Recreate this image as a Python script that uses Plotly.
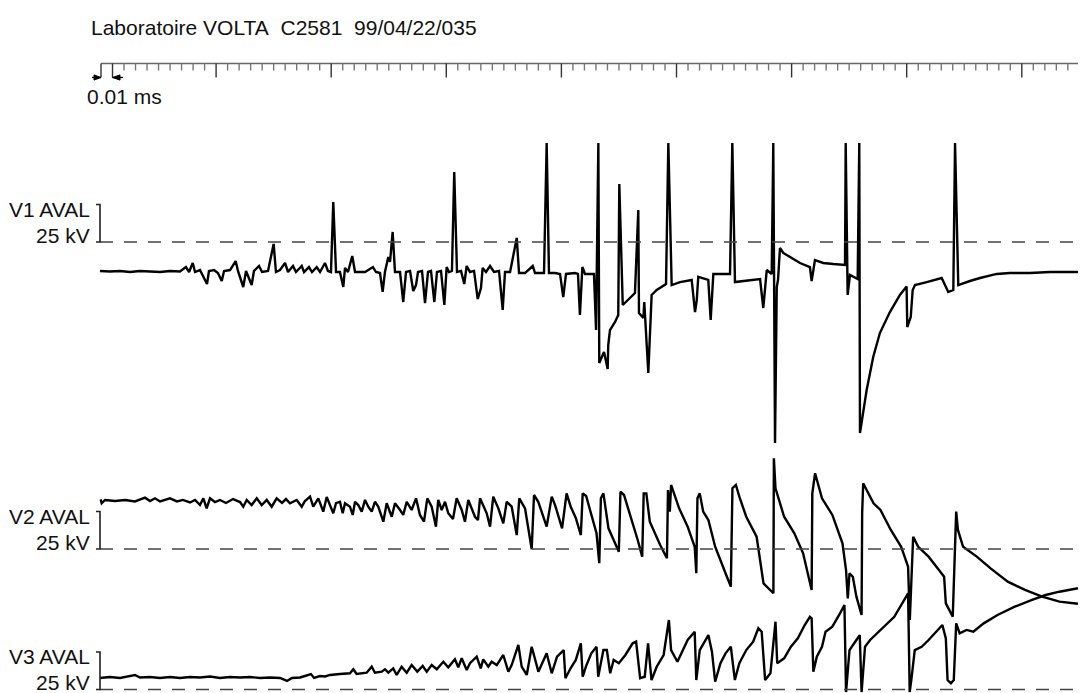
import plotly.graph_objects as go

# ---- data: (time in µs, voltage in kV relative to each channel's dashed reference) ----
TITLE = "Laboratoire VOLTA\u00a0\u00a0C2581\u00a0\u00a099/04/22/035"
SCALE_LABEL = "0.01 ms"
CHANNEL_NAMES = ["V1 AVAL", "V2 AVAL", "V3 AVAL"]
SCALE_KV = 25          # bracket height
RULER_STEP_US = 10     # one ruler division = 0.01 ms
RULER_DIVS = 84

V1 = [(-0.9,-19.3),(7.8,-19.7),(16.5,-19.3),(25.2,-20.0),(33.9,-19.3),(42.6,-19.7),(51.3,-20.0),(59.9,-19.3),(68.6,-19.7),
(73.8,-16.7),(76.5,-20.0),(79.7,-14.0),(81.7,-20.0),(86.0,-18.7),(92.1,-28.0),(93.8,-19.3),(98.2,-18.7),(101.6,-20.7),(104.9,-26.0),(106.9,-19.3),(112.1,-18.7),(117.0,-12.7),(119.0,-19.3),(123.6,-30.0),(126.0,-19.3),(130.9,-28.7),(132.9,-19.3),(137.3,-16.0),(139.9,-20.0),(145.1,-19.3),(150.0,-1.3),(152.0,-20.0),(155.5,-18.7),(159.9,-14.0),(162.5,-20.0),(166.8,-16.0),(169.4,-20.0),(174.4,-16.0),(176.4,-20.0),(180.7,-16.7),(183.3,-20.0),(187.4,-16.7),(190.3,-20.0),(194.6,-14.0),(197.2,-19.3),(199.8,-20.0),(201.8,26.7),(204.2,-20.0),(207.6,-20.0),(210.5,-30.0),(212.0,-17.3),(214.6,-20.0),(218.3,-9.3),(220.7,-20.0),(229.4,-20.0),(236.3,-16.7),(238.9,-20.0),(242.4,-20.7),(244.7,-33.3),(246.7,-20.0),(249.6,-10.0),(251.1,-13.3),(253.4,6.7),(255.4,-20.0),(259.8,-20.0),(262.6,-40.0),(265.0,-20.0),(268.5,-19.3),(271.3,-32.7),(273.7,-28.7),(275.4,-20.0),(278.9,-19.3),(281.5,-40.7),(284.1,-20.0),(286.7,-19.3),(289.6,-40.0),(291.9,-20.0),(295.4,-19.3),(298.3,-42.0),(300.3,-16.7),(302.3,-20.0),(304.9,-19.3),(306.9,46.7),(309.3,-20.0),(312.8,-19.3),(315.6,-28.0),(317.7,-16.0),(320.6,-20.0),(324.1,-19.3),(327.3,-38.0),(330.1,-30.7),(331.6,-17.3),(334.5,-20.0),(338.0,-16.0),(341.4,-20.0),(345.8,-19.3),(349.0,-45.3),(351.0,-20.0),(355.4,-20.0),(361.2,2.7),(363.2,-20.7),(368.4,-20.7),(375.1,-16.0),(377.1,-20.7),(384.9,-20.7),(387.2,66.0),(389.2,-20.7),(394.4,-20.7),(398.8,-21.3),(401.6,-36.7),(404.0,-21.3),(411.8,-20.7),(414.4,-21.3),(416.1,-48.7),(418.2,-16.7),(420.5,-21.3),(428.3,-21.3),(430.1,-58.7),(432.1,66.0),(432.9,-80.7),(437.0,-73.3),(440.2,-84.7),(440.7,-68.7),(442.2,-58.7),(446.6,-53.3),(449.4,-48.7),(450.3,38.7),(453.3,-42.0),(459.6,-37.3),(463.9,-34.0),(466.8,21.3),(467.4,-47.3),(471.2,-50.7),(472.0,-40.0),(475.5,-87.3),(478.4,-35.3),(482.8,-32.0),(488.5,-29.3),(490.9,-28.0),(492.9,66.0),(495.8,-28.7),(503.1,-26.7),(513.2,-25.3),(516.1,-46.7),(517.6,-38.7),(518.9,-23.3),(527.6,-25.3),(529.7,-52.0),(532.0,-21.3),(546.5,-21.3),(548.5,66.0),(550.8,-26.7),(563.9,-25.3),(572.6,-24.7),(575.4,-44.0),(578.4,-18.7),(582.7,-21.3),(584.1,66.0),(585.6,-134.0),(587.1,-30.0),(588.2,-25.3),(589.9,-4.0),(592.8,-7.3),(598.6,-10.0),(607.3,-14.0),(615.9,-16.7),(617.4,-26.0),(620.3,-12.0),(627.5,-14.0),(636.2,-14.7),(646.4,-15.3),(647.0,66.0),(648.7,-35.3),(650.7,-22.0),(657.4,-24.7),(658.8,66.0),(659.4,-127.3),(665.2,-98.7),(670.9,-76.7),(676.7,-60.7),(685.4,-46.7),(694.1,-35.3),(699.9,-29.7),(700.5,-56.7),(703.5,-50.0),(705.2,-32.0),(707.2,-28.7),(717.4,-26.7),(730.4,-24.0),(736.1,-33.3),(740.5,-32.0),(742.0,66.0),(744.8,-28.7),(754.9,-26.0),(763.7,-24.0),(778.2,-21.3),(789.7,-20.7),(807.1,-20.7),(824.5,-20.0),(848.8,-20.0)]

V2 = [(-0.3,33.1),(0.6,30.5),(3.5,32.7),(12.2,32.0),(20.9,32.7),(29.5,31.7),(38.2,34.2),(42.6,32.0),(46.9,33.8),(51.3,31.7),(59.9,33.8),(66.0,31.7),(71.2,32.7),(77.3,31.0),(81.7,32.7),(86.0,29.3),(88.9,33.8),(91.8,27.1),(94.7,33.8),(99.0,31.3),(103.4,32.7),(108.6,30.7),(114.7,33.3),(120.8,31.3),(123.6,28.2),(126.6,32.7),(130.9,29.3),(135.3,33.8),(139.6,29.3),(144.0,32.7),(148.3,28.2),(152.6,33.8),(157.3,30.7),(160.7,33.3),(164.2,30.5),(170.0,32.7),(174.4,28.2),(177.2,32.0),(181.6,34.9),(184.4,28.2),(188.8,33.8),(193.1,24.9),(196.1,34.7),(201.8,23.8),(204.2,30.5),(207.6,31.5),(210.0,23.8),(212.0,30.5),(216.3,28.2),(218.7,22.7),(220.7,31.5),(223.5,29.3),(226.5,24.9),(229.4,32.7),(232.2,28.2),(235.2,24.9),(238.0,31.5),(240.9,28.2),(245.3,18.2),(248.2,30.5),(252.6,21.5),(255.4,30.5),(259.8,26.0),(262.6,22.7),(265.6,31.5),(269.9,26.0),(273.7,33.8),(277.1,22.7),(280.6,18.2),(283.5,33.8),(287.3,28.2),(291.0,14.9),(293.0,32.7),(296.0,26.0),(298.9,31.5),(301.7,23.8),(305.8,20.0),(309.0,33.8),(313.4,26.0),(316.2,18.2),(319.1,32.7),(324.9,21.5),(327.5,19.3),(329.3,33.8),(335.1,23.8),(338.0,14.9),(340.8,34.9),(345.2,27.1),(349.5,17.1),(352.5,31.5),(356.8,28.2),(361.2,9.3),(363.4,33.8),(368.4,27.1),(374.2,-0.2),(376.2,36.0),(379.9,31.5),(387.2,14.9),(391.6,34.9),(394.5,29.3),(400.6,13.8),(404.5,37.1),(408.1,28.2),(412.5,20.7),(416.9,9.3),(418.5,37.1),(421.5,35.3),(427.5,19.3),(430.5,10.5),(432.9,-9.5),(434.3,33.8),(436.5,37.1),(440.9,13.8),(449.9,-1.8),(451.3,38.2),(454.4,36.0),(460.3,21.5),(466.3,6.0),(470.2,-5.1),(471.5,37.1),(473.8,37.1),(476.8,18.2),(485.8,2.7),(491.7,-6.2),(492.6,39.3),(494.2,24.9),(495.3,42.7),(497.8,37.1),(502.3,27.1),(509.7,14.9),(515.8,1.5),(517.2,-16.2),(518.2,33.8),(520.2,37.1),(523.2,24.9),(527.7,19.3),(533.6,1.5),(542.6,-16.2),(547.2,-25.1),(548.6,40.5),(551.6,42.7),(554.6,34.9),(560.6,21.5),(569.6,8.2),(575.6,-22.9),(584.2,-29.5),(584.6,60.5),(586.0,40.5),(593.5,21.5),(602.4,10.5),(610.0,-2.9),(617.4,-27.3),(618.0,37.1),(620.4,50.5),(626.4,33.8),(635.4,22.7),(644.2,3.8),(647.3,-14.0),(648.8,-32.9),(650.3,-16.2),(653.2,-18.5),(656.3,-31.8),(660.8,-44.0),(661.3,23.8),(662.2,43.8),(665.2,39.3),(671.2,30.5),(677.2,26.0),(686.2,12.7),(695.2,1.5),(701.2,-11.8),(702.7,-47.3),(705.6,8.2),(710.0,1.5),(719.0,-5.1),(728.0,-14.0),(732.5,-18.5),(734.0,-36.2),(740.0,-45.1),(743.0,24.9),(744.5,12.7),(749.0,1.5),(760.9,-5.1),(772.9,-12.9),(787.8,-21.8),(802.8,-27.3),(817.7,-31.8),(832.7,-35.1),(848.8,-36.5)]

V3 = [(-0.9,7.7),(7.8,8.3),(16.5,7.7),(25.2,9.0),(29.5,9.7),(33.9,8.0),(42.6,8.3),(51.3,7.7),(59.9,8.3),(68.6,7.7),(77.3,8.3),(86.0,8.0),(94.7,8.7),(103.4,7.7),(112.1,8.3),(120.8,8.0),(129.5,8.3),(138.1,7.7),(146.8,8.0),(155.5,7.7),(161.6,5.7),(165.9,7.7),(172.9,8.0),(177.2,9.0),(182.4,10.3),(185.1,7.7),(190.3,9.0),(194.6,8.7),(199.0,9.7),(207.6,10.3),(216.3,10.8),(219.2,13.5),(222.1,10.3),(230.8,11.2),(235.2,15.2),(238.0,11.2),(243.9,11.9),(246.7,13.5),(249.6,11.2),(253.9,14.1),(256.9,9.7),(261.2,15.2),(265.6,11.2),(269.9,16.3),(274.8,11.9),(279.5,15.7),(283.0,11.9),(287.3,16.3),(291.7,13.5),(297.4,18.5),(301.7,14.8),(307.5,20.1),(310.4,14.8),(313.4,20.8),(317.7,13.0),(320.6,17.5),(326.4,21.9),(329.9,14.1),(332.1,20.1),(336.5,15.2),(339.4,18.5),(343.8,16.3),(349.5,23.0),(353.9,11.9),(356.8,16.3),(362.6,29.7),(365.5,15.2),(369.9,9.7),(374.2,28.5),(380.0,11.9),(387.2,24.1),(391.6,10.8),(396.2,21.9),(402.0,26.3),(403.5,7.5),(408.1,14.3),(412.5,19.7),(416.9,30.8),(418.5,8.5),(421.5,15.7),(426.0,24.1),(430.5,28.5),(432.0,8.5),(436.5,26.3),(439.5,26.3),(442.4,10.8),(445.4,19.7),(449.9,17.5),(455.6,23.0),(461.9,30.8),(464.9,31.9),(468.4,7.5),(472.4,8.5),(475.3,30.8),(478.3,6.3),(482.8,15.2),(488.8,23.0),(493.4,46.3),(495.3,26.3),(500.8,18.5),(505.2,26.3),(509.7,33.0),(515.8,38.5),(517.2,6.3),(520.2,26.3),(524.8,33.0),(527.7,36.3),(530.8,25.2),(533.6,5.2),(538.2,17.5),(542.6,24.1),(547.2,28.5),(550.7,6.3),(554.6,17.5),(560.6,26.3),(566.6,31.9),(571.1,40.8),(574.0,38.5),(577.0,6.3),(581.6,10.8),(586.0,45.2),(587.5,17.5),(593.5,20.8),(599.4,28.5),(605.4,34.1),(611.4,43.0),(615.9,48.5),(617.4,47.5),(618.9,11.9),(621.9,21.9),(626.4,28.5),(629.5,38.5),(635.4,41.9),(641.3,49.7),(645.9,56.3),(647.3,-1.7),(650.3,26.3),(656.3,33.0),(659.2,36.3),(660.8,-1.7),(663.8,28.5),(668.2,33.0),(677.2,39.7),(689.2,48.5),(701.2,64.1),(702.6,-1.7),(704.0,6.3),(707.0,26.3),(713.0,28.5),(719.0,33.0),(731.0,43.0),(734.0,34.1),(735.5,6.3),(738.4,4.1),(740.9,6.3),(743.0,44.1),(746.0,37.5),(752.0,39.7),(757.9,38.5),(766.9,44.1),(778.9,49.7),(793.9,55.2),(808.9,59.7),(820.7,63.0),(832.7,65.2),(848.8,67.5)]

# ---- layout constants (screen pixels of the photographed page) ----
W, H = 1090, 693
PAGE_OFF = 8.0         # default body margin of the html page
X0_PX = 101.0          # screen pixel of t = 0
PX_PER_US = 1.151
PX_PER_KV = 1.5
ZERO_PX = [242.0, 549.0, 689.5]   # screen pixel row of each channel's dashed reference
FONT = dict(family="Liberation Sans, Arial, sans-serif", size=21, color="#111")


def t_of_px(px):
    return (px - X0_PX) / PX_PER_US


def paper_y(py):
    return 1 - (py - PAGE_OFF) / H


def paper_x(px):
    return (px - PAGE_OFF) / W


fig = go.Figure()
axis_ids = ["y", "y2", "y3"]
for data, ax in zip([V1, V2, V3], axis_ids):
    fig.add_trace(go.Scatter(
        x=[p[0] for p in data], y=[p[1] for p in data], yaxis=ax,
        mode="lines", line=dict(color="black", width=2.4), hoverinfo="skip",
        showlegend=False))

layout = dict(
    width=W, height=H, margin=dict(l=0, r=0, t=0, b=0),
    paper_bgcolor="white", plot_bgcolor="white", showlegend=False,
    xaxis=dict(range=[t_of_px(PAGE_OFF), t_of_px(PAGE_OFF + W)], visible=False, fixedrange=True),
)
for i, z in enumerate(ZERO_PX):
    key = "yaxis" if i == 0 else f"yaxis{i+1}"
    rng = [-(PAGE_OFF + H - z) / PX_PER_KV, (z - PAGE_OFF) / PX_PER_KV]
    d = dict(range=rng, visible=False, fixedrange=True)
    if i > 0:
        d["overlaying"] = "y"
    layout[key] = d
fig.update_layout(**layout)

shapes = []
annotations = []
t_start, t_end = t_of_px(100), t_of_px(1078)
for i, z in enumerate(ZERO_PX):
    ax = axis_ids[i]
    shapes.append(dict(type="line", xref="x", yref=ax, x0=t_start, x1=t_end, y0=0, y1=0,
                       line=dict(color="#444", width=1.3, dash="13px,11px")))
    tl, tr = t_of_px(96), t_of_px(100)
    shapes.append(dict(type="path", xref="x", yref=ax,
                       path=f"M {tl},{SCALE_KV} L {tr},{SCALE_KV} L {tr},0 L {tl},0",
                       line=dict(color="#222", width=1.6)))
    top_px = z - SCALE_KV * PX_PER_KV
    annotations.append(dict(text=CHANNEL_NAMES[i], xref="paper", yref="paper",
                            x=paper_x(92), y=paper_y(top_px + 4.5), xanchor="right", yanchor="middle",
                            showarrow=False, font=FONT))
    annotations.append(dict(text=f"{SCALE_KV} kV", xref="paper", yref="paper",
                            x=paper_x(92), y=paper_y(z - 7), xanchor="right", yanchor="middle",
                            showarrow=False, font=FONT))

# time ruler
ry, rminor, rmajor = paper_y(63.5), paper_y(70.5), paper_y(77.5)
shapes.append(dict(type="line", xref="x", yref="paper", x0=0, x1=t_of_px(1078), y0=ry, y1=ry,
                   line=dict(color="#666", width=1.7)))
for k in range(RULER_DIVS + 1):
    t = k * RULER_STEP_US
    long = (k % 10 == 0) or k <= 1
    shapes.append(dict(type="line", xref="x", yref="paper", x0=t, x1=t, y0=ry,
                       y1=rmajor if long else rminor,
                       line=dict(color="#333" if long else "#777", width=1.4)))
ay = paper_y(77.5)
ah = 2.6 / H
shapes.append(dict(type="line", xref="x", yref="paper", x0=t_of_px(92), x1=0, y0=ay, y1=ay,
                   line=dict(color="black", width=1.3)))
shapes.append(dict(type="path", xref="x", yref="paper",
                   path=f"M {t_of_px(94)},{ay+ah} L 0,{ay} L {t_of_px(94)},{ay-ah} Z",
                   fillcolor="black", line=dict(color="black", width=1)))
shapes.append(dict(type="line", xref="x", yref="paper", x0=RULER_STEP_US, x1=t_of_px(123), y0=ay, y1=ay,
                   line=dict(color="black", width=1.3)))
shapes.append(dict(type="path", xref="x", yref="paper",
                   path=f"M {t_of_px(120)},{ay+ah} L {RULER_STEP_US},{ay} L {t_of_px(120)},{ay-ah} Z",
                   fillcolor="black", line=dict(color="black", width=1)))

annotations.append(dict(text=SCALE_LABEL, xref="paper", yref="paper", x=paper_x(85), y=paper_y(96),
                        xanchor="left", yanchor="middle", showarrow=False, font=FONT))
annotations.append(dict(text=TITLE, xref="paper", yref="paper", x=paper_x(89), y=paper_y(27),
                        xanchor="left", yanchor="middle", showarrow=False, font=FONT))

fig.update_layout(shapes=shapes, annotations=annotations)
fig.write_html("out.html")
